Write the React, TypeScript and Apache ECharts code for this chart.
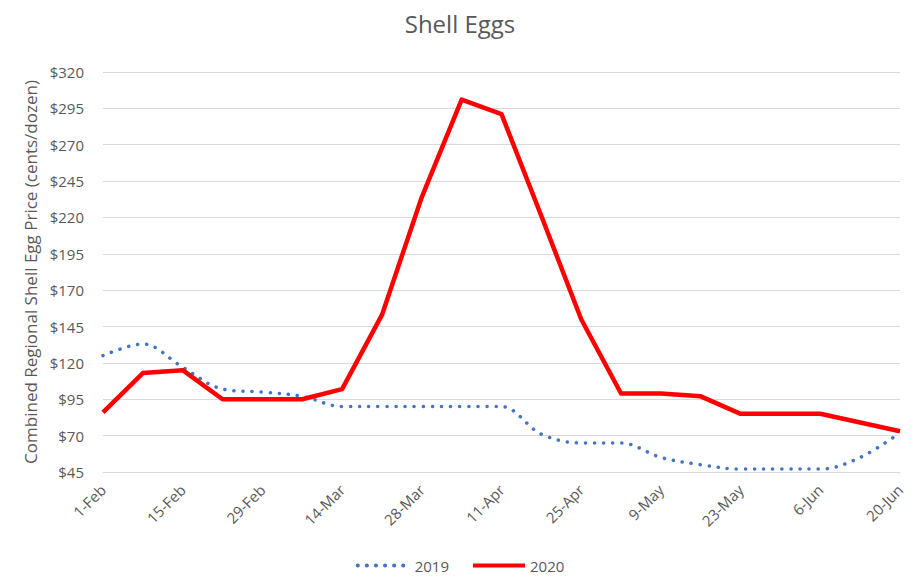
import React, { useEffect, useRef } from "react";
import * as echarts from "echarts";

const categories = [
  "1-Feb", "8-Feb", "15-Feb", "22-Feb", "29-Feb", "7-Mar", "14-Mar", "21-Mar",
  "28-Mar", "4-Apr", "11-Apr", "18-Apr", "25-Apr", "2-May", "9-May", "16-May",
  "23-May", "30-May", "6-Jun", "13-Jun", "20-Jun",
];
const prices2019 = [125, 133, 117, 102, 100, 97, 90, 90, 90, 90, 90, 71, 65, 65, 55, 50, 47, 47, 47, 55, 72];
const prices2020 = [86, 113, 115, 95, 95, 95, 102, 153, 234, 301, 291, 221, 150, 99, 99, 97, 85, 85, 85, 79, 73];

const FONT = "'Open Sans', 'Noto Sans', sans-serif";
const TXT = "#595959";

export default function App() {
  const ref = useRef<HTMLDivElement>(null);
  useEffect(() => {
    if (!ref.current) return;
    const chart = echarts.init(ref.current, undefined, { renderer: "svg" });
    chart.setOption({
      animation: false,
      backgroundColor: "#ffffff",
      textStyle: { fontFamily: FONT },
      title: {
        text: "Shell Eggs",
        left: "center",
        top: 6,
        textStyle: { fontFamily: FONT, fontSize: 24, fontWeight: "normal", color: TXT },
      },
      grid: { left: 103, right: 20, top: 72, bottom: 107, containLabel: false },
      legend: {
        bottom: 1,
        left: "center",
        itemWidth: 52,
        itemHeight: 14,
        itemGap: 22,
        itemStyle: { opacity: 0 },
        lineStyle: { width: 4 },
        textStyle: { fontFamily: FONT, fontSize: 15, color: TXT },
        data: ["2019", "2020"],
      },
      xAxis: {
        type: "category",
        data: categories,
        boundaryGap: false,
        axisLine: { show: true, lineStyle: { color: "#D9D9D9", width: 1 } },
        axisTick: { show: false },
        axisLabel: {
          interval: 1,
          rotate: 45,
          fontFamily: FONT,
          fontSize: 15,
          color: TXT,
          margin: 15,
        },
      },
      yAxis: {
        type: "value",
        min: 45,
        max: 320,
        interval: 25,
        name: "Combined Regional Shell Egg Price (cents/dozen)",
        nameLocation: "middle",
        nameRotate: 90,
        nameGap: 63,
        nameTextStyle: { fontFamily: FONT, fontSize: 17, color: TXT },
        axisLine: { show: false },
        axisTick: { show: false },
        splitLine: { show: true, lineStyle: { color: "#D9D9D9", width: 1 } },
        axisLabel: {
          fontFamily: FONT,
          fontSize: 15,
          color: TXT,
          margin: 19,
          formatter: (v: number) => "$" + v,
        },
      },
      series: [
        {
          name: "2019",
          type: "line",
          data: prices2019,
          smooth: 0.35,
          showSymbol: false,
          symbol: "none",
          itemStyle: { color: "#4472C4" },
          lineStyle: { color: "#4472C4", width: 3.5, type: [0.1, 9], cap: "round" },
          z: 2,
        },
        {
          name: "2020",
          type: "line",
          data: prices2020,
          showSymbol: false,
          symbol: "none",
          itemStyle: { color: "#FF0000" },
          lineStyle: { color: "#FF0000", width: 4.5, join: "round" },
          z: 3,
        },
      ],
    });
    return () => chart.dispose();
  }, []);
  return (
    <div
      ref={ref}
      style={{ position: "fixed", left: 0, top: 0, width: 920, height: 579 }}
    />
  );
}
